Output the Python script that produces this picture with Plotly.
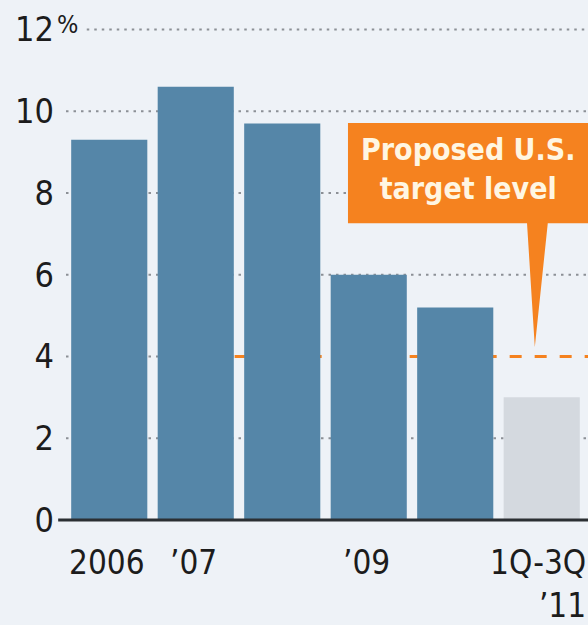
import plotly.graph_objects as go

# ---- data ----
categories = ["2006", "'07", "'08", "'09", "'10", "1Q-3Q '11"]
values = [9.3, 10.6, 9.7, 6.0, 5.2, 3.0]
x_labels = ["2006", "\u201907", "", "\u201909", "", "1Q-3Q<br>\u201911"]
y_ticks = [0, 2, 4, 6, 8, 10, 12]
y_ticktext = ["0", "2", "4", "6", "8", "10", "12"]
target_level = 4.0
callout_text = "Proposed U.S.<br>target level"

BG = "#eef2f7"
BLUE = "#5586a8"
GRAY = "#d4d9df"
ORANGE = "#f5821f"
TXT = "#1c1c1c"
FONT = "DejaVu Sans Condensed, Liberation Sans Narrow, Roboto Condensed, Arial Narrow, sans-serif"

bar_colors = [BLUE] * (len(values) - 1) + [GRAY]
xpos = list(range(len(categories)))
XMAX = 5.535

fig = go.Figure()
fig.add_trace(go.Bar(x=xpos, y=values, marker=dict(color=bar_colors, line=dict(width=0)),
                     width=0.88, hoverinfo="skip"))

shapes = []
# dotted gridlines
for v in y_ticks:
    if v == 0:
        continue
    x0 = -0.5
    x1 = XMAX
    if v == 12:
        x0 = -0.26
    if v == target_level:
        x1 = 1.45
    shapes.append(dict(type="line", xref="x", yref="y", x0=x0, x1=x1, y0=v, y1=v,
                       line=dict(color="#8c9096", width=2, dash="2.5px,5px"), layer="below"))
# target dashed line
shapes.append(dict(type="line", xref="x", yref="y", x0=1.45, x1=XMAX, y0=target_level, y1=target_level,
                   line=dict(color=ORANGE, width=3, dash="12px,13px"), layer="below"))
# zero line
shapes.append(dict(type="line", xref="paper", yref="paper", x0=-0.015, x1=1.0, y0=0, y1=0,
                   line=dict(color="#2b2f33", width=3), layer="above"))
# callout box with pointer
bx0, bx1, by0, by1 = 2.76, XMAX + 0.1, 7.26, 9.71
px0, px1, tipx, tipy = 4.83, 5.07, 4.92, target_level + 0.23
path = (f"M {bx0},{by1} L {bx1},{by1} L {bx1},{by0} L {px1},{by0} L {tipx},{tipy} "
        f"L {px0},{by0} L {bx0},{by0} Z")
shapes.append(dict(type="path", xref="x", yref="y", path=path, fillcolor=ORANGE,
                   line=dict(width=0), layer="above"))

annotations = [
    dict(text=callout_text, xref="x", yref="y", x=4.15, y=8.58, showarrow=False,
         font=dict(family=FONT, size=30, color="#fff6e2", weight="bold"), align="center"),
    dict(text="%", xref="paper", yref="y", x=-0.022, y=12.12, xanchor="left", yanchor="middle",
         showarrow=False, font=dict(family=FONT, size=25, color=TXT)),
]
for i, lab in enumerate(x_labels):
    if not lab:
        continue
    if i == len(x_labels) - 1:
        annotations.append(dict(text=lab, xref="paper", yref="paper", x=1.0, y=0, xanchor="right",
                                yanchor="top", yshift=-21, align="right", showarrow=False,
                                font=dict(family=FONT, size=33, color=TXT)))
    else:
        annotations.append(dict(text=lab, xref="x", yref="paper", x=xpos[i] - 0.03, y=0,
                                xanchor="center", yanchor="top", yshift=-21, showarrow=False,
                                font=dict(family=FONT, size=33, color=TXT)))

fig.update_layout(
    width=588, height=625,
    margin=dict(l=66, r=0, t=9, b=105),
    paper_bgcolor=BG, plot_bgcolor=BG,
    showlegend=False, bargap=0.12,
    shapes=shapes, annotations=annotations,
    xaxis=dict(range=[-0.5, XMAX], showgrid=False, zeroline=False, showticklabels=False,
               ticks="", fixedrange=True),
    yaxis=dict(range=[0, 12.5], tickvals=y_ticks, ticktext=y_ticktext, showgrid=False,
               zeroline=False, ticks="", ticklabelstandoff=11, fixedrange=True,
               tickfont=dict(family=FONT, size=34, color=TXT)),
)

fig.write_html("out.html", config={"displayModeBar": False},
               post_script="document.body.style.margin='0';document.body.style.background='%s';" % BG)
